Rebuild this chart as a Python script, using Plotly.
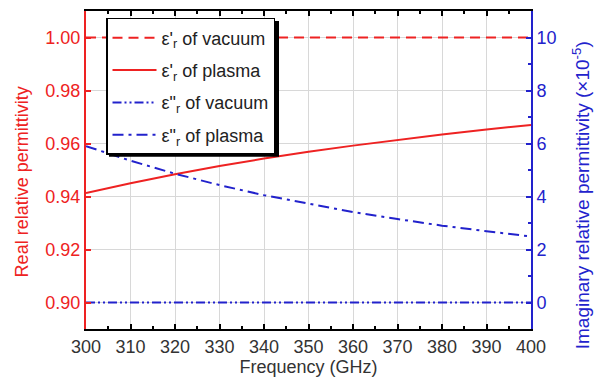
import plotly.graph_objects as go

freq = [300, 310, 320, 330, 340, 350, 360, 370, 380, 390, 400]
real_vacuum = [1.0] * 11
real_plasma = [0.9413, 0.9450, 0.9484, 0.9515, 0.9543, 0.9569, 0.9592, 0.9614, 0.9634, 0.9653, 0.9670]
imag_vacuum = [0.0] * 11
imag_plasma = [5.90, 5.35, 4.86, 4.43, 4.05, 3.72, 3.41, 3.15, 2.90, 2.69, 2.49]

RED = "#ee2222"
BLUE = "#2222cc"
FONT = "Liberation Sans, Arial, sans-serif"
FS = 18

fig = go.Figure()
fig.add_trace(go.Scatter(x=freq, y=real_vacuum, mode="lines", name="ε'<sub>r</sub> of vacuum",
                         line=dict(color=RED, width=2, dash="10px,6px"), legendgroup="a"))
fig.add_trace(go.Scatter(x=freq, y=real_plasma, mode="lines", name="ε'<sub>r</sub> of plasma",
                         line=dict(color=RED, width=2), legendgroup="b"))
fig.add_trace(go.Scatter(x=freq, y=imag_vacuum, mode="lines", name='ε"<sub>r</sub> of vacuum',
                         line=dict(color=BLUE, width=2, dash="9px,3px,2px,3px,2px,3px"), yaxis="y2", legendgroup="c"))
fig.add_trace(go.Scatter(x=freq, y=imag_plasma, mode="lines", name='ε"<sub>r</sub> of plasma',
                         line=dict(color=BLUE, width=2, dash="11px,5px,3px,5px"), yaxis="y2", legendgroup="d"))

L, R, T, B = 86, 531, 9, 330
def px(x):
    return (x - L) / (R - L)
def py(y):
    return (B - y) / (B - T)

fig.add_shape(type="rect", xref="paper", yref="paper",
              x0=px(109), x1=px(279), y0=py(156), y1=py(19),
              fillcolor="black", line=dict(width=0), layer="above")

fig.add_annotation(text="Real relative permittivity", xref="paper", yref="paper",
                   x=px(22), y=py(182), xanchor="center", yanchor="middle",
                   textangle=-90, showarrow=False, font=dict(size=FS, color=RED, family=FONT))
fig.add_annotation(text="Imaginary relative permittivity (×10<sup>-5</sup>)", xref="paper", yref="paper",
                   x=px(581), y=py(195), xanchor="center", yanchor="middle",
                   textangle=-90, showarrow=False, font=dict(size=19, color=BLUE, family=FONT))

fig.update_layout(
    width=602, height=383,
    margin=dict(l=L, r=602 - R, t=T, b=383 - B),
    plot_bgcolor="white", paper_bgcolor="white",
    font=dict(family=FONT, size=FS, color="#333333"),
    showlegend=True,
    legend=dict(x=px(106), y=py(16), xanchor="left", yanchor="top",
                bgcolor="white", bordercolor="black", borderwidth=1.5,
                font=dict(family=FONT, size=FS, color="#222222"),
                tracegroupgap=6, itemwidth=44),
    xaxis=dict(range=[300, 400], dtick=10, tick0=300,
               showline=True, linecolor="black", linewidth=2, mirror="ticks",
               ticks="inside", ticklen=5, tickwidth=1.5, tickcolor="black",
               minor=dict(dtick=5, ticks="inside", ticklen=3, tickcolor="black", showgrid=False),
               showgrid=True, gridcolor="#d8d8d8", gridwidth=1,
               tickfont=dict(size=FS, color="#333333"),
               title=dict(text="Frequency (GHz)", font=dict(size=FS, color="#333333"), standoff=5),
               zeroline=False),
    yaxis=dict(range=[0.89, 1.01], dtick=0.02, tick0=0.90, tickformat=".2f",
               showline=True, linecolor=RED, linewidth=2,
               ticks="inside", ticklen=5, tickwidth=1.5, tickcolor=RED,
               showgrid=True, gridcolor="#d8d8d8", gridwidth=1,
               tickfont=dict(size=FS, color=RED),
               zeroline=False),
    yaxis2=dict(range=[-1, 11], dtick=2, tick0=0, overlaying="y", side="right",
                showline=True, linecolor=BLUE, linewidth=2,
                ticks="inside", ticklen=5, tickwidth=1.5, tickcolor=BLUE,
                minor=dict(dtick=1, ticks="inside", ticklen=3, tickcolor=BLUE),
                showgrid=False,
                tickfont=dict(size=FS, color=BLUE),
                zeroline=False),
)

fig.write_html("out.html")
